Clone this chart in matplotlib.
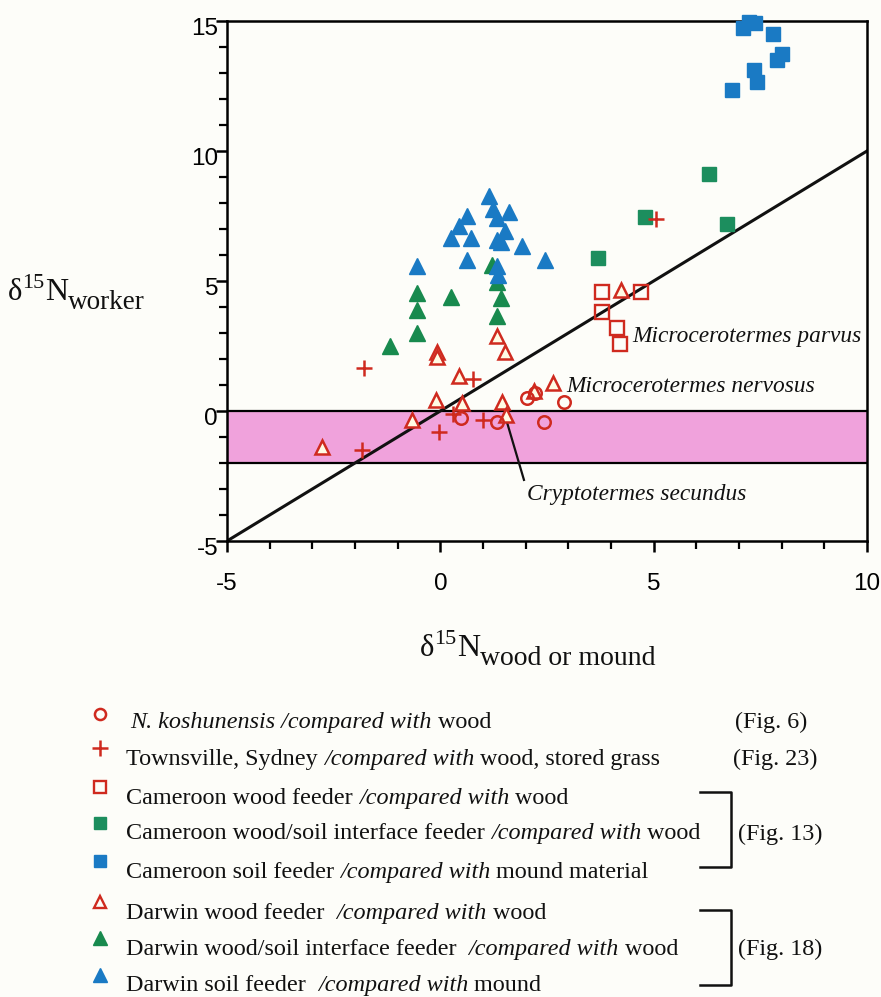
import matplotlib.pyplot as plt
import matplotlib.transforms as mtransforms

plt.rcParams['font.family'] = ['Liberation Serif', 'DejaVu Serif']

# ---- data ----
kosh_x = [0.49, 1.32, 2.02, 2.22, 2.90, 2.43]
kosh_y = [-0.28, -0.44, 0.49, 0.70, 0.33, -0.44]

towns_x = [-1.80, -1.84, -0.02, 0.30, 0.77, 1.01, 5.06]
towns_y = [1.64, -1.50, -0.80, -0.10, 1.23, -0.35, 7.38]

cam_wood_x = [3.80, 4.70, 3.80, 4.13, 4.21]
cam_wood_y = [4.56, 4.56, 3.80, 3.18, 2.56]

cam_inter_x = [6.30, 4.80, 6.73, 3.70]
cam_inter_y = [9.12, 7.47, 7.18, 5.87]

cam_soil_x = [7.10, 7.24, 7.38, 7.80, 8.00, 7.90, 7.34, 7.43, 6.83]
cam_soil_y = [14.72, 14.97, 14.93, 14.50, 13.73, 13.50, 13.12, 12.67, 12.35]

dar_wood_x = [-2.78, -0.67, -0.10, -0.08, -0.07, 0.44, 0.50, 1.32, 1.52, 1.45, 1.53, 2.20, 2.65, 4.23]
dar_wood_y = [-1.40, -0.35, 0.42, 2.28, 2.06, 1.35, 0.30, 2.88, 2.28, 0.36, -0.15, 0.78, 1.06, 4.65]

dar_inter_x = [-0.55, 0.24, 1.42, -0.55, 1.32, -0.55, -1.18, 1.32, 1.20]
dar_inter_y = [4.55, 4.37, 4.35, 3.88, 3.67, 2.99, 2.50, 4.97, 5.60]

dar_soil_x = [1.14, 1.24, 1.62, 0.63, 1.32, 0.44, 1.52, 0.25, 0.72, 1.32, 1.42, 1.91,
              0.62, 2.45, -0.55, 1.32, 1.34]
dar_soil_y = [8.27, 7.76, 7.64, 7.51, 7.41, 7.13, 6.93, 6.64, 6.64, 6.58, 6.51, 6.35,
              5.81, 5.81, 5.59, 5.58, 5.23]

xtick_vals = [-5, 0, 5, 10]
ytick_vals = [-5, 0, 5, 10, 15]

legend_rows = [
    [("N. koshunensis /compared with", 'italic'), (" wood", 'normal')],
    [("Townsville, Sydney ", 'normal'), ("/compared with", 'italic'), (" wood, stored grass", 'normal')],
    [("Cameroon wood feeder ", 'normal'), ("/compared with", 'italic'), (" wood", 'normal')],
    [("Cameroon wood/soil interface feeder ", 'normal'), ("/compared with", 'italic'), (" wood", 'normal')],
    [("Cameroon soil feeder ", 'normal'), ("/compared with", 'italic'), (" mound material", 'normal')],
    [("Darwin wood feeder  ", 'normal'), ("/compared with", 'italic'), (" wood", 'normal')],
    [("Darwin wood/soil interface feeder  ", 'normal'), ("/compared with", 'italic'), (" wood", 'normal')],
    [("Darwin soil feeder  ", 'normal'), ("/compared with", 'italic'), (" mound", 'normal')],
]

red = '#cf2a1f'
blue = '#1a7ac4'
green_sq = '#1c8e5e'
green_tri = '#188a4e'
pink = '#f0a2dc'
paper = '#fdfdf9'
tri_face = '#fffbe4'

W, H = 881, 997
fig = plt.figure(figsize=(W / 100, H / 100), dpi=100)
fig.patch.set_facecolor(paper)

ax = fig.add_axes([227 / W, 1 - 541 / H, 640 / W, 520 / H])
ax.set_facecolor(paper)
ax.set_xlim(-5, 10)
ax.set_ylim(-5, 15)

ax.axhspan(-2, 0, color=pink, lw=0, zorder=0)
ax.axhline(0, color='k', lw=1.6, zorder=1)
ax.axhline(-2, color='k', lw=1.6, zorder=1)
ax.plot([-5, 10], [-5, 10], color='#111111', lw=2.2, zorder=2)

ax.plot(dar_inter_x, dar_inter_y, '^', color=green_tri, ms=11, mec=green_tri, zorder=3)
ax.plot(dar_soil_x, dar_soil_y, '^', color=blue, ms=11.5, mec=blue, zorder=4)
ax.plot(cam_inter_x, cam_inter_y, 's', color=green_sq, ms=9.5, mec=green_sq, zorder=3)
ax.plot(cam_soil_x, cam_soil_y, 's', color=blue, ms=10, mec=blue, zorder=3, clip_on=False)
ax.plot(cam_wood_x, cam_wood_y, 's', mfc='none', mec=red, ms=9.5, mew=1.7, zorder=4)
ax.plot(dar_wood_x, dar_wood_y, '^', mfc=tri_face, mec=red, ms=10.5, mew=1.8, zorder=4)
ax.plot(kosh_x, kosh_y, 'o', mfc='none', mec=red, ms=9, mew=1.8, zorder=5)
ax.plot(towns_x, towns_y, '+', color=red, ms=11, mew=1.8, zorder=5)

# species notes
note_kw = dict(fontsize=16.8, style='italic', va='center', ha='left', color='#111111')
ax.text(4.51, 2.88, "Microcerotermes parvus", **note_kw)
ax.text(2.95, 0.96, "Microcerotermes nervosus", **note_kw)
ax.text(2.03, -3.23, "Cryptotermes secundus", **note_kw)
ax.plot([1.56, 1.96], [-0.42, -2.65], color='#111111', lw=1.6, zorder=2)

# axes style
for sp in ax.spines.values():
    sp.set_linewidth(1.8)
ax.set_xticks(range(-5, 11), minor=True)
ax.set_yticks(range(-5, 16), minor=True)
ax.set_xticks(xtick_vals)
ax.set_yticks(ytick_vals)
ax.set_xticklabels([])
ax.set_yticklabels([])
ax.tick_params(which='major', direction='out', length=8, width=1.8)
ax.tick_params(which='minor', direction='out', length=6, width=1.6)

ytr = mtransforms.offset_copy(ax.get_yaxis_transform(), fig=fig, x=-9, y=-8, units='dots')
for v in ytick_vals:
    ax.text(0, v, str(v), transform=ytr, ha='right', va='center',
            fontsize=17.5, family='Liberation Sans')
xtr = mtransforms.offset_copy(ax.get_xaxis_transform(), fig=fig, y=-43, units='dots')
for v in xtick_vals:
    ax.text(v, 0, str(v), transform=xtr, ha='center', va='center',
            fontsize=17.5, family='Liberation Sans')

# overlay axes in figure pixels for labels and legend
lax = fig.add_axes([0, 0, 1, 1])
lax.set_xlim(0, W)
lax.set_ylim(H, 0)
lax.axis('off')
lax.patch.set_alpha(0)

renderer = fig.canvas.get_renderer()


def text_width(s, size, style):
    t1 = lax.text(0, 0, 'x' + s + 'x', fontsize=size, style=style)
    t2 = lax.text(0, 0, 'xx', fontsize=size, style=style)
    w = t1.get_window_extent(renderer).width - t2.get_window_extent(renderer).width
    t1.remove()
    t2.remove()
    return w


def put_pieces(x, y, parts):
    for s, style, dy, size in parts:
        lax.text(x, y + dy, s, fontsize=size, style=style, ha='left', va='baseline', color='#111111')
        x += text_width(s, size, style)


# axis labels
put_pieces(8, 300, [("\u03b4", 'normal', 0, 22), ("15", 'normal', -12, 16),
                    ("N", 'normal', 0, 23), ("worker", 'normal', 9, 19.5)])
put_pieces(420, 656, [("\u03b4", 'normal', 0, 22), ("15", 'normal', -12, 16),
                      ("N", 'normal', 0, 23), ("wood or mound", 'normal', 9, 20)])

# legend
marker_y = [714, 748, 787, 823, 861, 902, 938, 975]
base_y = [728, 765, 804, 839, 878, 919, 955, 991]
marker_styles = [
    dict(marker='o', mfc='none', mec=red, ms=8, mew=1.8),
    dict(marker='+', color=red, ms=11, mew=1.8),
    dict(marker='s', mfc='none', mec=red, ms=9, mew=1.7),
    dict(marker='s', mfc=green_sq, mec=green_sq, ms=8.5),
    dict(marker='s', mfc=blue, mec=blue, ms=8.5),
    dict(marker='^', mfc='none', mec=red, ms=9, mew=1.7),
    dict(marker='^', mfc=green_tri, mec=green_tri, ms=9.5),
    dict(marker='^', mfc=blue, mec=blue, ms=9.5),
]
for i, row in enumerate(legend_rows):
    lax.plot([100], [marker_y[i]], ls='none', **marker_styles[i])
    x0 = 130 if i == 0 else 126
    put_pieces(x0, base_y[i], [(s, st, 0, 17.4) for s, st in row])

fig_kw = dict(fontsize=17.4, ha='left', va='baseline', color='#111111')
lax.text(735, 728, "(Fig. 6)", **fig_kw)
lax.text(733, 765, "(Fig. 23)", **fig_kw)
lax.text(738, 840, "(Fig. 13)", **fig_kw)
lax.text(738, 955, "(Fig. 18)", **fig_kw)
for top, bot in [(792, 867), (910, 985)]:
    lax.plot([700, 731, 731, 700], [top, top, bot, bot], color='#111111', lw=1.8)

fig.savefig('out.png', dpi=100, facecolor=paper)
